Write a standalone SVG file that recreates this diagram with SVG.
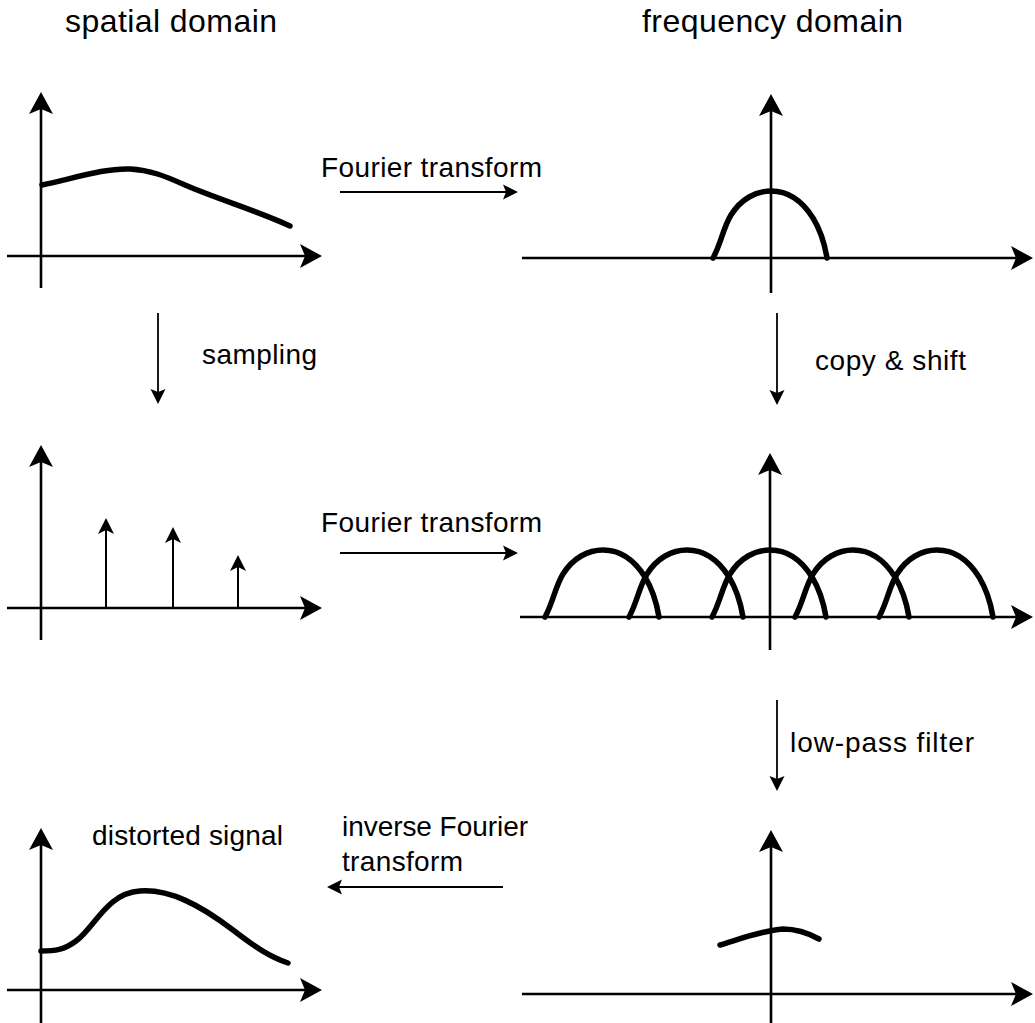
<svg xmlns="http://www.w3.org/2000/svg" xmlns:xlink="http://www.w3.org/1999/xlink" width="1035" height="1023" viewBox="0 0 1035 1023">
<style>
  text { font-family: "Liberation Sans", Arial, sans-serif; fill: #000; }
  .title { font-size: 32px; }
  .lbl { font-size: 28px; }
  .axis { stroke: #000; stroke-width: 2.6; fill: none; marker-end: url(#big); }
  .curve { stroke: #000; stroke-width: 5.5; fill: none; stroke-linecap: round; stroke-linejoin: round; }
  .spike { stroke: #000; stroke-width: 2; fill: none; marker-end: url(#small); }
  .conn { stroke: #000; stroke-width: 1.8; fill: none; marker-end: url(#head); }
</style>
<defs>
  <marker id="big" markerUnits="userSpaceOnUse" viewBox="-24 -14 36 28" refX="-10" refY="0" markerWidth="36" markerHeight="28" orient="auto" overflow="visible">
    <path d="M0,0 L-22,-12 L-17,0 L-22,12 Z" fill="#000"/>
  </marker>
  <marker id="small" markerUnits="userSpaceOnUse" viewBox="-17 -10 24 20" refX="-6" refY="0" markerWidth="24" markerHeight="20" orient="auto" overflow="visible">
    <path d="M0,0 L-16,-8 L-12,0 L-16,8 Z" fill="#000"/>
  </marker>
  <marker id="head" markerUnits="userSpaceOnUse" viewBox="-17 -9 24 18" refX="-6" refY="0" markerWidth="24" markerHeight="18" orient="auto" overflow="visible">
    <path d="M0,0 L-15,-7.5 L-12,0 L-15,7.5 Z" fill="#000"/>
  </marker>
  <path id="hump" d="M-58,0 C-50,-14 -48,-30 -40,-43 C-30,-59 -15,-67 0,-67 C18,-67 32,-56 42,-40 C50,-27 54,-12 56,0"/>
</defs>

<g id="titles">
  <text class="title" x="65" y="32" textLength="212" lengthAdjust="spacing">spatial domain</text>
  <text class="title" x="642" y="32" textLength="261" lengthAdjust="spacing">frequency domain</text>
</g>

<g id="panel-spatial-signal">
  <line class="axis" x1="41" y1="288" x2="41" y2="102"/>
  <line class="axis" x1="7" y1="256" x2="312" y2="256"/>
  <path class="curve" d="M42,185 C75,178 105,168 130,169 C150,170 165,176 185,185 C220,200 258,211 290,226"/>
</g>

<g id="panel-frequency-spectrum">
  <line class="axis" x1="771" y1="293" x2="771" y2="104"/>
  <line class="axis" x1="522" y1="258" x2="1023" y2="258"/>
  <use xlink:href="#hump" class="curve" transform="translate(771,258)"/>
</g>

<g id="panel-sampled">
  <line class="axis" x1="41" y1="640" x2="41" y2="455"/>
  <line class="axis" x1="7" y1="608" x2="312" y2="608"/>
  <line class="spike" x1="106" y1="608" x2="106" y2="524"/>
  <line class="spike" x1="173" y1="608" x2="173" y2="533"/>
  <line class="spike" x1="238" y1="608" x2="238" y2="561"/>
</g>

<g id="panel-replicated-spectrum">
  <line class="axis" x1="770" y1="650" x2="770" y2="463"/>
  <line class="axis" x1="520" y1="617" x2="1023" y2="617"/>
  <use xlink:href="#hump" class="curve" transform="translate(603,617)"/>
  <use xlink:href="#hump" class="curve" transform="translate(687,617)"/>
  <use xlink:href="#hump" class="curve" transform="translate(770,617)"/>
  <use xlink:href="#hump" class="curve" transform="translate(853,617)"/>
  <use xlink:href="#hump" class="curve" transform="translate(937,617)"/>
</g>

<g id="panel-filtered-spectrum">
  <line class="axis" x1="771" y1="1023" x2="771" y2="840"/>
  <line class="axis" x1="522" y1="994" x2="1023" y2="994"/>
  <path class="curve" d="M720,945 C740,939 760,931 783,929 C798,929 810,934 819,939"/>
</g>

<g id="panel-distorted">
  <line class="axis" x1="41" y1="1023" x2="41" y2="838"/>
  <line class="axis" x1="7" y1="990" x2="312" y2="990"/>
  <path class="curve" d="M41,951 C55,951 64,950 76,941 C95,927 107,893 140,891 C170,889 200,905 233,930 C255,947 270,957 288,963"/>
  <text class="lbl" x="92" y="845" textLength="191" lengthAdjust="spacing">distorted signal</text>
</g>

<g id="connectors">
  <line class="conn" x1="340" y1="192" x2="512" y2="192"/>
  <line class="conn" x1="340" y1="553" x2="512" y2="553"/>
  <line class="conn" x1="503" y1="887" x2="333" y2="887"/>
  <line class="conn" x1="158" y1="313" x2="158" y2="398"/>
  <line class="conn" x1="777" y1="313" x2="777" y2="399"/>
  <line class="conn" x1="777" y1="700" x2="777" y2="785"/>
</g>

<g id="labels">
  <text class="lbl" x="321" y="177" textLength="221" lengthAdjust="spacing">Fourier transform</text>
  <text class="lbl" x="321" y="532" textLength="221" lengthAdjust="spacing">Fourier transform</text>
  <text class="lbl" x="202" y="364" textLength="115" lengthAdjust="spacing">sampling</text>
  <text class="lbl" x="815" y="370" textLength="151" lengthAdjust="spacing">copy &amp; shift</text>
  <text class="lbl" x="790" y="752" textLength="184" lengthAdjust="spacing">low-pass filter</text>
  <text class="lbl" x="342" y="836" textLength="186" lengthAdjust="spacing">inverse Fourier</text>
  <text class="lbl" x="342" y="871" textLength="121" lengthAdjust="spacing">transform</text>
</g>
</svg>
